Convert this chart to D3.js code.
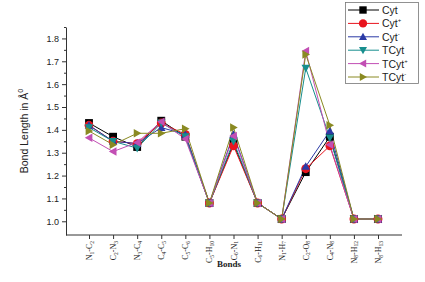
<!DOCTYPE html>
<html>
<head>
<meta charset="utf-8">
<script src="https://cdn.jsdelivr.net/npm/d3@7"></script>
<style>
  body { margin: 0; background: #fff; }
  svg { display: block; }
</style>
</head>
<body>
<div id="chart"></div>
<script>
let height = 282,
    width = 425,
    margin = ({ top: 27, right: 23, bottom: 47, left: 66 });

// bond labels: [atom, sub, atom, sub]
const bonds = [
  ["N","1","C","2"], ["C","2","N","3"], ["N","3","C","4"], ["C","4","C","5"],
  ["C","5","C","6"], ["C","5","H","10"], ["C","6","N","1"], ["C","6","H","11"],
  ["N","1","H","7"], ["C","2","O","8"], ["C","4","N","8"], ["N","8","H","12"],
  ["N","8","H","13"]
];
const seriesNames = ["Cyt", "Cyt+", "Cyt-", "TCyt", "TCyt+", "TCyt-"];
const cyt      = [1.43, 1.37, 1.325, 1.44, 1.37, 1.08, 1.34, 1.08, 1.01, 1.215, 1.37, 1.01, 1.01];
const cytPlus  = [1.42, 1.35, 1.34, 1.43, 1.38, 1.08, 1.33, 1.08, 1.01, 1.23, 1.33, 1.01, 1.01];
const cytMinus = [1.42, 1.35, 1.34, 1.41, 1.38, 1.08, 1.38, 1.08, 1.01, 1.24, 1.395, 1.01, 1.01];
const tcyt     = [1.41, 1.35, 1.32, 1.43, 1.37, 1.08, 1.35, 1.08, 1.01, 1.67, 1.365, 1.01, 1.01];
const tcytPlus = [1.365, 1.305, 1.345, 1.435, 1.36, 1.08, 1.373, 1.08, 1.01, 1.745, 1.335, 1.01, 1.01];
const tcytMinus= [1.395, 1.335, 1.385, 1.385, 1.405, 1.08, 1.41, 1.08, 1.01, 1.73, 1.42, 1.01, 1.01];
const yTicks = [1.0, 1.1, 1.2, 1.3, 1.4, 1.5, 1.6, 1.7, 1.8];

const allSeries = [cyt, cytPlus, cytMinus, tcyt, tcytPlus, tcytMinus];
const colors = ["#000000", "#e8141e", "#2b3aa6", "#178e8e", "#c24fb4", "#8a8a22"];
const symbols = [d3.symbolSquare, d3.symbolCircle, "up", "down", "left", "right"];

const svg = d3.select("#chart")
  .append("svg")
  .attr("width", width)
  .attr("height", height);

let x = d3.scalePoint()
  .domain(d3.range(bonds.length))
  .range([89, 378]);

let y = d3.scaleLinear()
  .domain([0.94, 1.85])
  .range([height - margin.bottom, margin.top]);

// y axis
svg.append("g")
  .attr("transform", `translate(${margin.left},0)`)
  .call(d3.axisLeft(y).tickValues(yTicks).tickFormat(d3.format(".1f")).tickSize(4).tickSizeOuter(0))
  .call(g => g.select(".domain").attr("stroke", "#333"))
  .call(g => g.selectAll(".tick line").attr("stroke", "#333"))
  .call(g => g.selectAll("text").attr("font-family", "Liberation Sans, Arial").attr("font-size", 9).attr("fill", "#222"));

// minor y ticks
svg.append("g")
  .attr("transform", `translate(${margin.left},0)`)
  .call(d3.axisLeft(y).tickValues(yTicks.map(v => v + 0.05)).tickFormat("").tickSize(2).tickSizeOuter(0))
  .call(g => g.select(".domain").remove())
  .call(g => g.selectAll(".tick line").attr("stroke", "#333"));

// x axis
const xAxis = svg.append("g")
  .attr("transform", `translate(0,${height - margin.bottom})`)
  .call(d3.axisBottom(x).tickFormat("").tickSize(4).tickSizeOuter(0));
xAxis.select(".domain").attr("d", `M${margin.left},0H${width - margin.right}`).attr("stroke", "#333");
xAxis.selectAll(".tick line").attr("stroke", "#333");

// rotated bond labels with subscripts
bonds.forEach((b, i) => {
  const t = svg.append("text")
    .attr("transform", `translate(${x(i) + 3},${height - margin.bottom + 6}) rotate(-90)`)
    .attr("text-anchor", "end")
    .attr("font-family", "Liberation Serif, Times New Roman")
    .attr("font-size", 8)
    .attr("fill", "#222");
  t.append("tspan").text(b[0]);
  t.append("tspan").attr("font-size", 5.5).attr("dy", 1.5).text(b[1]);
  t.append("tspan").attr("dy", -1.5).text("-" + b[2]);
  t.append("tspan").attr("font-size", 5.5).attr("dy", 1.5).text(b[3]);
});

// axis titles
const yt = svg.append("text")
  .attr("transform", `translate(28,${(margin.top + height - margin.bottom) / 2}) rotate(-90)`)
  .attr("text-anchor", "middle")
  .attr("font-family", "Liberation Sans, Arial")
  .attr("font-size", 10.5)
  .attr("fill", "#222");
yt.append("tspan").text("Bond Length in Å");
yt.append("tspan").attr("font-size", 7).attr("dy", -5).text("0");

svg.append("text")
  .attr("x", 229)
  .attr("y", 267)
  .attr("text-anchor", "middle")
  .attr("font-family", "Liberation Serif, Times New Roman")
  .attr("font-weight", "bold")
  .attr("font-size", 9)
  .attr("fill", "#222")
  .text("Bonds");

// marker path helper
function markerPath(sym, size) {
  const s = size / 2;
  if (sym === "up") return `M0,${-s}L${s},${s * 0.8}L${-s},${s * 0.8}Z`;
  if (sym === "down") return `M0,${s}L${s},${-s * 0.8}L${-s},${-s * 0.8}Z`;
  if (sym === "left") return `M${-s},0L${s * 0.8},${-s}L${s * 0.8},${s}Z`;
  if (sym === "right") return `M${s},0L${-s * 0.8},${-s}L${-s * 0.8},${s}Z`;
  return d3.symbol(sym, size * size * 0.85)();
}

const line = d3.line()
  .x((d, i) => x(i))
  .y(d => y(d));

// lines and markers
allSeries.forEach((vals, k) => {
  svg.append("path")
    .datum(vals)
    .attr("fill", "none")
    .attr("stroke", colors[k])
    .attr("stroke-width", 1)
    .attr("d", line);
});
allSeries.forEach((vals, k) => {
  svg.append("g")
    .selectAll("path")
    .data(vals)
    .join("path")
    .attr("transform", (d, i) => `translate(${x(i)},${y(d)})`)
    .attr("d", markerPath(symbols[k], 8.5))
    .attr("fill", colors[k]);
});

// legend
const legend = svg.append("g");
legend.append("rect")
  .attr("x", 345.5).attr("y", 2.5)
  .attr("width", 73).attr("height", 81)
  .attr("fill", "#fff")
  .attr("stroke", "#777")
  .attr("stroke-width", 0.8);

const legendY = d3.scalePoint().domain(d3.range(seriesNames.length)).range([10, 77]);
seriesNames.forEach((name, k) => {
  const ly = legendY(k);
  legend.append("line")
    .attr("x1", 348).attr("x2", 379)
    .attr("y1", ly).attr("y2", ly)
    .attr("stroke", colors[k]);
  legend.append("path")
    .attr("transform", `translate(363,${ly})`)
    .attr("d", markerPath(symbols[k], 8))
    .attr("fill", colors[k]);
  const base = name.replace(/[+-]$/, "");
  const sup = name.slice(base.length);
  const t = legend.append("text")
    .attr("x", 382).attr("y", ly + 4)
    .attr("font-family", "Liberation Sans, Arial")
    .attr("font-size", 10.5)
    .attr("fill", "#222");
  t.append("tspan").text(base);
  if (sup) t.append("tspan").attr("font-size", 6).attr("dy", -5).text(sup);
});
</script>
</body>
</html>
